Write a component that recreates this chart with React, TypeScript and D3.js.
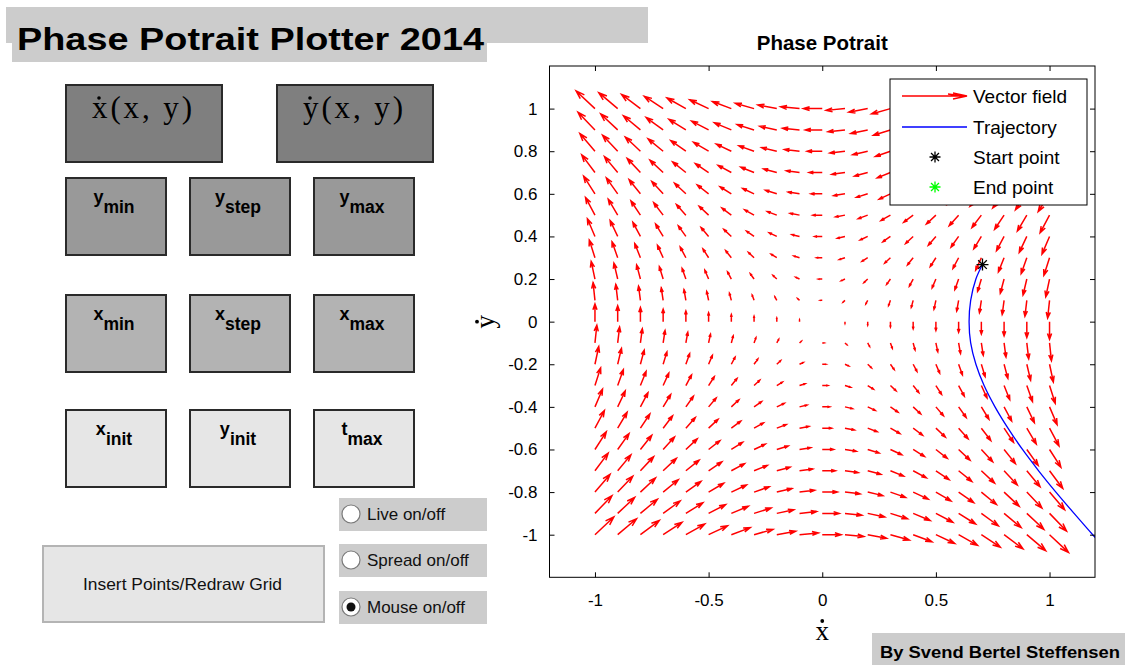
import React, { useEffect, useRef } from 'react';
import * as d3 from 'd3';

// grid of the vector field
const xGrid = [-1, -0.9, -0.8, -0.7, -0.6, -0.5, -0.4, -0.3, -0.2, -0.1, 0, 0.1, 0.2, 0.3, 0.4, 0.5, 0.6, 0.7, 0.8, 0.9, 1];
const yGrid = [-1, -0.9, -0.8, -0.7, -0.6, -0.5, -0.4, -0.3, -0.2, -0.1, 0, 0.1, 0.2, 0.3, 0.4, 0.5, 0.6, 0.7, 0.8, 0.9, 1];
// x-dot read per grid row (it only changes with y)
const uByRow = [1, 0.9, 0.8, 0.7, 0.6, 0.5, 0.4, 0.3, 0.2, 0.1, 0, -0.1, -0.2, -0.3, -0.4, -0.5, -0.6, -0.7, -0.8, -0.9, -1];
// y-dot read per grid column (it only changes with x)
const vByCol = [1, 0.9, 0.8, 0.7, 0.6, 0.5, 0.4, 0.3, 0.2, 0.1, 0, -0.1, -0.2, -0.3, -0.4, -0.5, -0.6, -0.7, -0.8, -0.9, -1];

// trajectory
const trajX = [0.705, 0.676, 0.653, 0.646, 0.653, 0.676, 0.712, 0.76, 0.817, 0.881, 0.952, 1.028, 1.108, 1.19, 1.233];
const trajY = [0.268, 0.2, 0.1, 0, -0.1, -0.2, -0.3, -0.4, -0.5, -0.6, -0.7, -0.8, -0.9, -1.0, -1.05];
const startPoint = [0.705, 0.268];

const xTicks = [-1, -0.5, 0, 0.5, 1];
const yTicks = [-1, -0.8, -0.6, -0.4, -0.2, 0, 0.2, 0.4, 0.6, 0.8, 1];

const legendItems = ['Vector field', 'Trajectory', 'Start point', 'End point'];
const boxLabels = [
    ['y', 'min'], ['y', 'step'], ['y', 'max'],
    ['x', 'min'], ['x', 'step'], ['x', 'max'],
    ['x', 'init'], ['y', 'init'], ['t', 'max'],
];
const radioLabels = ['Live on/off', 'Spread on/off', 'Mouse on/off'];
const radioChecked = [false, false, true];

const SANS = 'Liberation Sans, Arial, Helvetica, sans-serif';
const SERIF = 'Liberation Serif, Times New Roman, serif';

function starPath(cx: number, cy: number, r: number) {
    const d = r * 0.72;
    return `M${cx - r},${cy}L${cx + r},${cy}M${cx},${cy - r}L${cx},${cy + r}` +
        `M${cx - d},${cy - d}L${cx + d},${cy + d}M${cx - d},${cy + d}L${cx + d},${cy - d}`;
}

const App = () => {
    const plotRef = useRef<SVGGElement>(null);

    useEffect(() => {
        const g = d3.select(plotRef.current);
        g.selectAll('*').remove();

        const left = 549.5, right = 1095, top = 66, bottom = 577.3;
        const x = d3.scaleLinear().domain([-1.2, 1.2]).range([left, right]);
        const y = d3.scaleLinear().domain([-1.2, 1.2]).range([bottom, top]);

        g.append('clipPath').attr('id', 'plotclip')
            .append('rect')
            .attr('x', left).attr('y', top)
            .attr('width', right - left).attr('height', bottom - top);

        // quiver arrows (matlab style heads)
        const scale = 0.083, alpha = 0.33, beta = 0.33;
        const parts: string[] = [];
        yGrid.forEach((yy, j) => {
            xGrid.forEach((xx, i) => {
                const U = uByRow[j] * scale;
                const V = vByCol[i] * scale;
                if (U === 0 && V === 0) return;
                const tx = xx + U, ty = yy + V;
                const h1x = tx - alpha * (U + beta * V), h1y = ty - alpha * (V - beta * U);
                const h2x = tx - alpha * (U - beta * V), h2y = ty - alpha * (V + beta * U);
                parts.push(`M${x(xx)},${y(yy)}L${x(tx)},${y(ty)}` +
                    `M${x(h1x)},${y(h1y)}L${x(tx)},${y(ty)}L${x(h2x)},${y(h2y)}`);
            });
        });
        g.append('path')
            .attr('d', parts.join(''))
            .attr('fill', 'none')
            .attr('stroke', '#ff0000')
            .attr('stroke-width', 1.5);

        // trajectory
        const line = d3.line<number>()
            .x(i => x(trajX[i]))
            .y(i => y(trajY[i]))
            .curve(d3.curveCatmullRom);
        g.append('path')
            .attr('d', line(trajX.map((_, i) => i)))
            .attr('clip-path', 'url(#plotclip)')
            .attr('fill', 'none')
            .attr('stroke', '#0000ff')
            .attr('stroke-width', 1.3);

        g.append('path')
            .attr('d', starPath(x(startPoint[0]), y(startPoint[1]), 6))
            .attr('stroke', '#000')
            .attr('stroke-width', 1.3);

        // axes, ticks inward on all sides
        const fmt = (d: d3.NumberValue) => String(d);
        const styleAxis = (a: any) => {
            a.select('.domain').remove();
            a.attr('font-size', 17).attr('font-family', SANS);
            a.selectAll('text').attr('fill', '#000');
        };
        g.append('g').attr('transform', `translate(0,${bottom})`)
            .call(d3.axisBottom(x).tickValues(xTicks).tickFormat(fmt).tickSizeInner(-5).tickSizeOuter(0).tickPadding(17))
            .call(styleAxis);
        g.append('g').attr('transform', `translate(${left},0)`)
            .call(d3.axisLeft(y).tickValues(yTicks).tickFormat(fmt).tickSizeInner(-5).tickSizeOuter(0).tickPadding(12))
            .call(styleAxis);
        g.append('g').attr('transform', `translate(0,${top})`)
            .call(d3.axisTop(x).tickValues(xTicks).tickFormat(() => '').tickSizeInner(-5).tickSizeOuter(0))
            .call(styleAxis);
        g.append('g').attr('transform', `translate(${right},0)`)
            .call(d3.axisRight(y).tickValues(yTicks).tickFormat(() => '').tickSizeInner(-5).tickSizeOuter(0))
            .call(styleAxis);

        g.append('rect')
            .attr('x', left).attr('y', top)
            .attr('width', right - left).attr('height', bottom - top)
            .attr('fill', 'none').attr('stroke', '#000').attr('stroke-width', 1);

        // title and axis labels
        g.append('text')
            .attr('x', (left + right) / 2).attr('y', 50)
            .attr('text-anchor', 'middle')
            .attr('font-family', SANS).attr('font-weight', 'bold').attr('font-size', 20.5)
            .text('Phase Potrait');

        g.append('text')
            .attr('x', x(0)).attr('y', 640)
            .attr('text-anchor', 'middle')
            .attr('font-family', SERIF).attr('font-size', 27)
            .text('x');
        g.append('circle').attr('cx', x(0)).attr('cy', 621).attr('r', 1.9).attr('fill', '#000');

        const yl = g.append('g').attr('transform', `translate(494,${y(0)}) rotate(-90)`);
        yl.append('text')
            .attr('text-anchor', 'middle')
            .attr('font-family', SERIF).attr('font-size', 27)
            .text('y');
        yl.append('circle').attr('cx', 0).attr('cy', -17).attr('r', 1.9).attr('fill', '#000');

        // legend
        const lg = g.append('g');
        lg.append('rect')
            .attr('x', 890).attr('y', 79).attr('width', 197).attr('height', 126)
            .attr('fill', '#fff').attr('stroke', '#000').attr('stroke-width', 1);
        const rowY = [96, 127, 157, 187];
        lg.selectAll('text.leg')
            .data(legendItems)
            .enter()
            .append('text')
            .attr('x', 973)
            .attr('y', (_, i) => rowY[i] + 7)
            .attr('font-family', SANS).attr('font-size', 19)
            .attr('fill', '#000')
            .text(d => d);
        lg.append('path')
            .attr('d', `M902,${rowY[0]}L967,${rowY[0]}M953,${rowY[0] - 3}L967,${rowY[0]}L953,${rowY[0] + 3}M948,${rowY[0] - 2}L962,${rowY[0]}`)
            .attr('fill', 'none').attr('stroke', '#ff0000').attr('stroke-width', 1.3);
        lg.append('line')
            .attr('x1', 902).attr('x2', 967).attr('y1', rowY[1]).attr('y2', rowY[1])
            .attr('stroke', '#0000ff').attr('stroke-width', 1.3);
        lg.append('path').attr('d', starPath(935, rowY[2], 5.5)).attr('stroke', '#000').attr('stroke-width', 1.3);
        lg.append('path').attr('d', starPath(935, rowY[3], 5.5)).attr('stroke', '#00ff00').attr('stroke-width', 1.3);
    }, []);

    const colX = [66, 190, 314];
    const rowTop = [178, 295, 410];
    const rowFill = ['#999999', '#b3b3b3', '#e6e6e6'];

    return (
        <svg width={1125} height={665} style={{ position: 'absolute', left: 0, top: 0, background: '#fff' }}>
            <rect x={0} y={0} width={1125} height={665} fill="#fff" />

            {/* header */}
            <rect x={6} y={7} width={642} height={36} fill="#cccccc" />
            <rect x={12} y={20} width={475} height={42} fill="#cccccc" />
            <text x={17} y={50} fontFamily={SANS} fontWeight="bold" fontSize={32}
                textLength={467} lengthAdjust="spacingAndGlyphs" fill="#000">Phase Potrait Plotter 2014</text>

            {/* function boxes */}
            {[66, 277].map((bx, i) => (
                <g key={'f' + i}>
                    <rect x={bx} y={85} width={156} height={77} fill="#7f7f7f" stroke="#2a2a2a" strokeWidth={2} />
                    <text x={bx + 26} y={118} fontFamily={SERIF} fontSize={31} fill="#000"
                        textLength={100} lengthAdjust="spacing">{i === 0 ? 'x(x, y)' : 'y(x, y)'}</text>
                    <circle cx={bx + 33} cy={98} r={1.8} fill="#000" />
                </g>
            ))}

            {/* parameter boxes */}
            {boxLabels.map((lab, k) => {
                const r = Math.floor(k / 3), c = k % 3;
                const bx = colX[c], by = rowTop[r];
                return (
                    <g key={'b' + k}>
                        <rect x={bx} y={by} width={100} height={77} fill={rowFill[r]} stroke="#2a2a2a" strokeWidth={2} />
                        <text x={bx + 48} y={by + 25} textAnchor="middle" fontFamily={SANS} fontWeight="bold" fontSize={18} fill="#000">
                            <tspan>{lab[0]}</tspan>
                            <tspan dy={10} fontSize={17.5}>{lab[1]}</tspan>
                        </text>
                    </g>
                );
            })}

            {/* radio buttons */}
            {radioLabels.map((lab, i) => {
                const ry = [498, 544, 591][i];
                return (
                    <g key={'r' + i}>
                        <rect x={339} y={ry} width={148} height={33} fill="#cccccc" />
                        <circle cx={351} cy={ry + 16} r={9} fill="#fff" stroke="#7a7a7a" strokeWidth={1.2} />
                        {radioChecked[i] && <circle cx={351} cy={ry + 16} r={4.5} fill="#111" />}
                        <text x={367} y={ry + 22} fontFamily={SANS} fontSize={17} fill="#111">{lab}</text>
                    </g>
                );
            })}

            {/* push button */}
            <rect x={43} y={546} width={281} height={76} fill="#e6e6e6" stroke="#b4b4b4" strokeWidth={2} />
            <text x={83} y={590} fontFamily={SANS} fontSize={16.5} fill="#111"
                textLength={199} lengthAdjust="spacingAndGlyphs">Insert Points/Redraw Grid</text>

            {/* footer */}
            <rect x={872} y={633} width={253} height={32} fill="#cccccc" />
            <text x={880} y={658} fontFamily={SANS} fontWeight="bold" fontSize={16} fill="#000"
                textLength={240} lengthAdjust="spacingAndGlyphs">By Svend Bertel Steffensen</text>

            <g ref={plotRef} />
        </svg>
    );
};

export default App;
